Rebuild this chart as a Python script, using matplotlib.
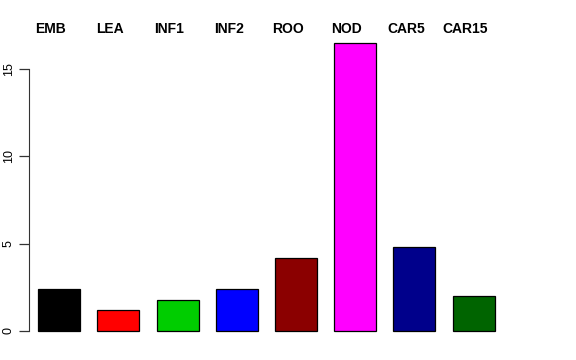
import matplotlib
matplotlib.use("Agg")
import matplotlib.pyplot as plt
import matplotlib.transforms as mtransforms
import numpy as np

categories = ["EMB", "LEA", "INF1", "INF2", "ROO", "NOD", "CAR5", "CAR15"]
values = [2.4, 1.2, 1.8, 2.4, 4.2, 16.5, 4.8, 2.0]
colors = ["#000000", "#FF0000", "#00CD00", "#0000FF", "#8B0000", "#FF00FF", "#00008B", "#006400"]
yticks = [0, 5, 10, 15]

plt.rcParams['font.family'] = ['Liberation Sans', 'DejaVu Sans']

W, H = 576, 360
fig = plt.figure(figsize=(W / 100, H / 100), dpi=100)
left_px, right_px = 28.5, 560
bot_px, top_px = 342.5, 31.2
ax = fig.add_axes([left_px / W, (H - bot_px) / H, (right_px - left_px) / W, (bot_px - top_px) / H])

pos = np.arange(len(categories))
ax.bar(pos, values, width=0.71, color=colors, edgecolor="black", linewidth=0.9)
ax.set_xlim(-0.52, 8.46)
ax.set_ylim(-0.66, 17.16)

for s in ["top", "right", "bottom"]:
    ax.spines[s].set_visible(False)
ax.spines["left"].set_bounds(0, 15)
ax.spines["left"].set_color("#333333")
ax.set_xticks([])
ax.set_yticks(yticks)
ax.set_yticklabels([str(t) for t in yticks], rotation=90, va="center")
ax.tick_params(axis="y", length=7, width=0.9, color="#333333", labelsize=9, pad=3)

trans = mtransforms.blended_transform_factory(ax.transData, fig.transFigure)
for p, c in zip(pos, categories):
    ax.text(p - 0.14, (H - 29.3) / H, c, transform=trans, ha="center", va="center",
            fontsize=10, fontweight="bold")

fig.savefig("out.png", dpi=100)
